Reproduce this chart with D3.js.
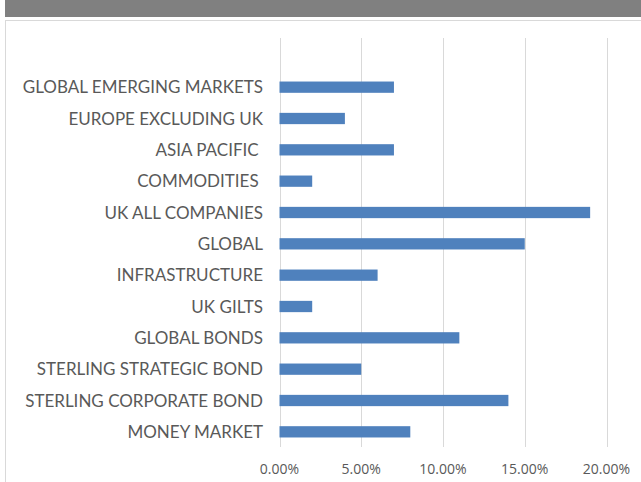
<!DOCTYPE html>
<html>
<head>
<meta charset="utf-8">
<script src="https://cdn.jsdelivr.net/npm/d3@7"></script>
<style>
  body { margin: 0; background: #fff; }
  svg { display: block; }
</style>
</head>
<body>
<svg id="chart" width="641" height="482"></svg>
<script>
// data, top to bottom as in the picture
var categories = [
  "GLOBAL EMERGING MARKETS",
  "EUROPE EXCLUDING UK",
  "ASIA PACIFIC ",
  "COMMODITIES ",
  "UK ALL COMPANIES",
  "GLOBAL",
  "INFRASTRUCTURE",
  "UK GILTS",
  "GLOBAL BONDS",
  "STERLING STRATEGIC BOND",
  "STERLING CORPORATE BOND",
  "MONEY MARKET"
];
var values = [7, 4, 7, 2, 19, 15, 6, 2, 11, 5, 14, 8];
var tickValues = [0, 5, 10, 15, 20];

var svg = d3.select("#chart");

// grey header strip + framed panel
svg.append("rect").attr("x", 5).attr("y", 0).attr("width", 636).attr("height", 17).attr("fill", "#808080");
svg.append("rect").attr("x", 5.5).attr("y", 20.5).attr("width", 640).attr("height", 470)
  .attr("fill", "#fff").attr("stroke", "#d9d9d9");

var x = d3.scaleLinear().domain([0, 20]).range([279.5, 606.5]);
var y = d3.scaleBand().domain(categories).range([71.5, 447.5]).paddingInner(0.64).paddingOuter(0.32);

// gridlines
svg.append("g").selectAll("line").data(tickValues).enter().append("line")
  .attr("x1", function(d){ return Math.round(x(d)) + 0.5; })
  .attr("x2", function(d){ return Math.round(x(d)) + 0.5; })
  .attr("y1", 38).attr("y2", 447)
  .attr("stroke", "#d9d9d9").attr("stroke-width", 1);

// bars
svg.append("g").selectAll("rect").data(values).enter().append("rect")
  .attr("x", x(0))
  .attr("y", function(d, i){ return y(categories[i]); })
  .attr("width", function(d){ return x(d) - x(0); })
  .attr("height", y.bandwidth())
  .attr("fill", "#4f81bd");

// category labels
svg.append("g").selectAll("text").data(categories).enter().append("text")
  .attr("x", 263)
  .attr("y", function(d){ return y(d) + y.bandwidth() / 2; })
  .attr("dy", "0.36em")
  .attr("text-anchor", "end")
  .attr("font-family", "Lato, 'Open Sans', sans-serif")
  .attr("font-size", 17)
  .attr("fill", "#595959")
  .style("white-space", "pre")
  .text(function(d){ return d; });

// value axis labels
var fmt = d3.format(".2f");
svg.append("g").selectAll("text").data(tickValues).enter().append("text")
  .attr("x", function(d){ return x(d); })
  .attr("y", 469)
  .attr("dy", "0.36em")
  .attr("text-anchor", "middle")
  .attr("font-family", "'Open Sans', sans-serif")
  .attr("font-size", 14)
  .attr("fill", "#595959")
  .text(function(d){ return fmt(d) + "%"; });
</script>
</body>
</html>
